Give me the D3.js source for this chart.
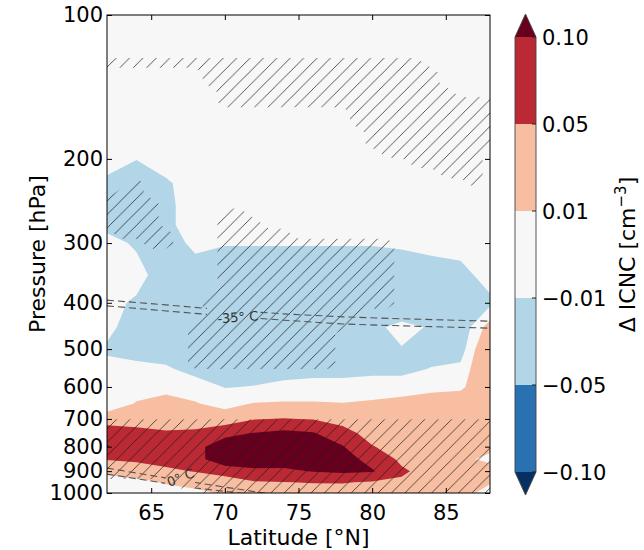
<!DOCTYPE html>
<html>
<head>
<meta charset="utf-8">
<script src="https://cdn.jsdelivr.net/npm/d3@7"></script>
<style>
  body { margin: 0; background: #fff; }
  svg { display: block; }
  text { font-family: "DejaVu Sans", sans-serif; fill: #000; }
</style>
</head>
<body>
<svg id="chart" width="644" height="550"></svg>
<script>
// ---- ICNC change field: rows follow `pressures`, columns follow `lats` ----
const lats = [62, 64, 66, 68, 70, 72, 74, 76, 78, 80, 82, 84, 86, 88];
const pressures = [100, 125, 150, 175, 200, 225, 250, 275, 300, 350, 400, 450,
                   500, 550, 600, 650, 700, 750, 800, 850, 900, 950, 1000];
const icnc = [
  [0, 0, 0, 0, 0, 0, 0, 0, 0, 0, 0, 0, 0, 0],
  [0, 0, 0, 0, 0, 0, 0, 0, 0, 0, 0, 0, 0, 0],
  [0, 0, 0, 0, 0, 0, 0, 0, 0, 0, 0, 0, 0, 0],
  [0, 0, 0, 0, 0, 0, 0, 0, 0, 0, 0, 0, 0, 0],
  [0, -0.009, 0, 0, 0, 0, 0, 0, 0, 0, 0, 0, 0, 0],
  [-0.015, -0.03, -0.013, 0, 0, 0, 0, 0, 0, 0, 0, 0, 0, 0],
  [-0.03, -0.03, -0.015, 0, 0, 0, 0, 0, 0, 0, 0, 0, 0, 0],
  [-0.02, -0.025, -0.015, 0, 0, 0, 0, 0, 0, 0, 0, 0, 0, 0],
  [0.002, -0.015, -0.02, -0.005, -0.008, -0.008, -0.008, -0.008, -0.008, -0.008, -0.005, -0.002, 0, 0],
  [0, 0.003, -0.03, -0.02, -0.03, -0.03, -0.03, -0.03, -0.03, -0.03, -0.03, -0.022, -0.018, 0],
  [0, -0.015, -0.03, -0.03, -0.03, -0.03, -0.03, -0.03, -0.03, -0.03, -0.03, -0.03, -0.03, -0.015],
  [0, -0.03, -0.03, -0.03, -0.03, -0.03, -0.03, -0.03, -0.03, -0.015, -0.004, -0.012, -0.025, 0.02],
  [-0.015, -0.025, -0.025, -0.03, -0.03, -0.03, -0.03, -0.03, -0.03, -0.03, -0.011, -0.02, -0.02, 0.04],
  [0, 0, -0.006, -0.02, -0.025, -0.022, -0.02, -0.02, -0.02, -0.018, -0.016, -0.009, -0.005, 0.04],
  [0, 0.004, 0.005, 0.003, -0.011, -0.009, -0.004, 0, 0, 0.003, 0, 0.003, 0.004, 0.04],
  [0, 0.011, 0.016, 0.011, 0.004, 0.011, 0.012, 0.0115, 0.0105, 0.012, 0.017, 0.023, 0.03, 0.04],
  [0.019, 0.03, 0.03, 0.03, 0.02, 0.048, 0.052, 0.048, 0.035, 0.025, 0.025, 0.03, 0.035, 0.035],
  [0.09, 0.065, 0.055, 0.058, 0.09, 0.102, 0.113, 0.104, 0.065, 0.035, 0.03, 0.035, 0.035, 0.03],
  [0.102, 0.08, 0.075, 0.09, 0.12, 0.135, 0.14, 0.14, 0.103, 0.052, 0.035, 0.035, 0.03, 0.015],
  [0.052, 0.06, 0.065, 0.085, 0.13, 0.13, 0.135, 0.14, 0.125, 0.08, 0.042, 0.035, 0.015, 0.005],
  [0.02, 0.02, 0.042, 0.052, 0.075, 0.09, 0.088, 0.103, 0.11, 0.105, 0.056, 0.035, 0.025, 0.02],
  [-0.008, 0.004, 0.012, 0.025, 0.019, 0.046, 0.049, 0.052, 0.053, 0.045, 0.044, 0.03, 0.025, 0.012],
  [0, 0, 0, 0, 0.015, 0.025, 0.025, 0.025, 0.025, 0.02, 0.025, 0.025, 0.02, 0]
];

// ---- significance mask (1 = significant), rows follow `sigPressures` ----
const sigLats = [62, 63, 64, 65, 66, 67, 68, 69, 70, 71, 72, 73, 74, 75, 76, 77,
                 78, 79, 80, 81, 82, 83, 84, 85, 86, 87, 88];
const sigPressures = [100, 105, 110, 115, 120, 126, 132, 138, 145, 152, 160, 168,
                      176, 185, 194, 204, 214, 225, 236, 248, 260, 273, 287, 301,
                      316, 332, 348, 365, 383, 402, 422, 443, 465, 488, 512, 537,
                      564, 592, 621, 652, 684, 718, 753, 790, 829, 870, 913, 958, 1000];
const sigMask = [
  "000000000000000000000000000",
  "000000000000000000000000000",
  "000000000000000000000000000",
  "000000000000000000000000000",
  "000000000000000000000000000",
  "111111111111111111111100000",
  "000000011111111111111110000",
  "000000011111111111111110000",
  "000000001111111111111111000",
  "000000001111111111111111111",
  "000000000000000001111111111",
  "000000000000000001111111111",
  "000000000000000000111111111",
  "000000000000000000111111111",
  "000000000000000000011111110",
  "000000000000000000000111110",
  "000000000000000000000001110",
  "001000000000000000000000010",
  "011000000000000000000000000",
  "111100000000000000000000000",
  "111100001100000000000000000",
  "111100001110000000000000000",
  "011110001111100000000000000",
  "000110001111111111110000000",
  "000000001111111111110000000",
  "000000001111111111110000000",
  "000000001111111111110000000",
  "000000001111111111110000000",
  "000000011111111111110000000",
  "000000011111111111110000000",
  "000000011111111111000000000",
  "000000111111111110000000000",
  "000000111111111100000000000",
  "000000111111111100000000000",
  "000000111111111100000000000",
  "000000111111111100000000000",
  "000000000000000000000000000",
  "000000000000000000000000000",
  "000000000000000000000000000",
  "000000000000000000000000000",
  "000000000000000000000000000",
  "111111111111111111111111111",
  "111111111111111111111111111",
  "111111111111111111111111111",
  "111111111111111111111111111",
  "111111111111111111111111111",
  "111111111111111111111111111",
  "000001111111111111111111111",
  "000000011111111111111111111"
];

// ---- isotherms (pressure in hPa at each latitude) ----
const isoLats35 = [62, 66, 70, 74, 78, 82, 88];
const iso35a = [395, 404, 414, 422, 428, 432, 437];
const iso35b = [406, 416, 426, 435, 443, 447, 452];
const isoLats0 = [62, 66, 70, 74];
const iso0a = [887, 930, 972, 1015];
const isoLats0b = [62, 65, 68, 71, 72];
const iso0b = [913, 944, 976, 1000, 1010];

// ---- levels, colours, ticks ----
const levels = [-0.1, -0.05, -0.01, 0.01, 0.05, 0.1];
const levelLabels = ["\u22120.10", "\u22120.05", "\u22120.01", "0.01", "0.05", "0.10"];
const bandColors = ["#053061", "#2a71b2", "#b2d5e7", "#f7f7f7", "#f7bea2", "#bb2a34", "#67001f"];
const latTicks = [65, 70, 75, 80, 85];
const pressureTicks = [100, 200, 300, 400, 500, 600, 700, 800, 900, 1000];

// ---- layout ----
const plot = { left: 107, right: 490, top: 15, bottom: 493 };
const cbar = { left: 515, right: 536, top: 37, bottom: 472, tip: 23 };

const x = d3.scaleLinear().domain([62, 88]).range([plot.left, plot.right]);
const y = d3.scaleLog().domain([100, 1000]).range([plot.top, plot.bottom]);

const svg = d3.select("#chart");
const defs = svg.append("defs");

defs.append("clipPath").attr("id", "plotClip")
  .append("rect")
  .attr("x", plot.left).attr("y", plot.top)
  .attr("width", plot.right - plot.left).attr("height", plot.bottom - plot.top);

// '/' hatching for significant regions
const hs = 13.4;
defs.append("pattern")
  .attr("id", "hatch")
  .attr("patternUnits", "userSpaceOnUse")
  .attr("width", hs).attr("height", hs)
  .append("path")
  .attr("d", `M0,${hs} L${hs},0 M${-hs / 4},${hs / 4} L${hs / 4},${-hs / 4} M${hs * 3 / 4},${hs * 5 / 4} L${hs * 5 / 4},${hs * 3 / 4}`)
  .attr("stroke", "#1a1a1a")
  .attr("stroke-opacity", 0.8)
  .attr("stroke-width", 0.9);

// path generator for d3.contours output on an irregular lat/pressure grid
function gridPath(gLats, gPress) {
  const nx = gLats.length, ny = gPress.length;
  const fx = c => {
    const f = c - 0.5;
    const i = Math.max(0, Math.min(nx - 2, Math.floor(f)));
    const t = f - i;
    return x(gLats[i]) + t * (x(gLats[i + 1]) - x(gLats[i]));
  };
  const fy = c => {
    const f = c - 0.5;
    const j = Math.max(0, Math.min(ny - 2, Math.floor(f)));
    const t = f - j;
    return y(gPress[j]) + t * (y(gPress[j + 1]) - y(gPress[j]));
  };
  return d3.geoPath(d3.geoTransform({
    point(px, py) { this.stream.point(fx(px), fy(py)); }
  }));
}

const field = svg.append("g").attr("clip-path", "url(#plotClip)");

// filled contours
field.append("rect")
  .attr("x", plot.left).attr("y", plot.top)
  .attr("width", plot.right - plot.left).attr("height", plot.bottom - plot.top)
  .attr("fill", bandColors[0]);

const icncPath = gridPath(lats, pressures);
const bands = d3.contours()
  .size([lats.length, pressures.length])
  .thresholds(levels)(icnc.flat());

field.selectAll("path.band")
  .data(bands)
  .join("path")
  .attr("class", "band")
  .attr("d", icncPath)
  .attr("fill", (d, i) => bandColors[i + 1]);

// hatched significance
const sigPath = gridPath(sigLats, sigPressures);
const sigValues = sigMask.flatMap(row => Array.from(row, Number));
const sigRegion = d3.contours()
  .size([sigLats.length, sigPressures.length])
  .thresholds([0.5])(sigValues);

field.selectAll("path.sig")
  .data(sigRegion)
  .join("path")
  .attr("class", "sig")
  .attr("d", sigPath)
  .attr("fill", "url(#hatch)");

// isotherms with inline labels
const labelGap = defs.append("mask").attr("id", "isoMask");
labelGap.append("rect").attr("x", 0).attr("y", 0).attr("width", 644).attr("height", 550).attr("fill", "#fff");
labelGap.append("rect").attr("x", 207).attr("y", 306).attr("width", 50).attr("height", 18).attr("fill", "#000");
labelGap.append("rect").attr("x", 165).attr("y", 471).attr("width", 30).attr("height", 18).attr("fill", "#000");

const isoLine = d3.line().x(d => x(d[0])).y(d => y(d[1]));
const isotherms = [
  d3.zip(isoLats35, iso35a),
  d3.zip(isoLats35, iso35b),
  d3.zip(isoLats0, iso0a),
  d3.zip(isoLats0b, iso0b)
];
const isoG = field.append("g").attr("mask", "url(#isoMask)");
isoG.selectAll("path")
  .data(isotherms)
  .join("path")
  .attr("d", isoLine)
  .attr("fill", "none")
  .attr("stroke", "#555")
  .attr("stroke-width", 1.1)
  .attr("stroke-dasharray", "7,4");

field.append("text")
  .attr("transform", `translate(${x(70.9)},${y(428) + 5}) rotate(-4)`)
  .attr("text-anchor", "middle")
  .attr("font-size", 13)
  .style("fill", "#333")
  .text("-35\u00b0 C");

field.append("text")
  .attr("transform", `translate(${x(67.1)},${y(925) + 5}) rotate(-22)`)
  .attr("text-anchor", "middle")
  .attr("font-size", 13)
  .style("fill", "#333")
  .text("0\u00b0 C");

// frame
svg.append("rect")
  .attr("x", plot.left).attr("y", plot.top)
  .attr("width", plot.right - plot.left).attr("height", plot.bottom - plot.top)
  .attr("fill", "none").attr("stroke", "#000").attr("stroke-width", 1);

// axes with inward ticks on all four sides
function styleAxis(g) {
  g.select(".domain").remove();
  g.selectAll(".tick line").attr("stroke", "#000");
  g.attr("font-family", "DejaVu Sans, sans-serif").attr("font-size", 21);
  g.selectAll(".tick text").attr("fill", "#000");
}
svg.append("g")
  .attr("transform", `translate(0,${plot.bottom})`)
  .call(d3.axisBottom(x).tickValues(latTicks).tickFormat(d3.format("d"))
    .tickSizeInner(-5).tickSizeOuter(0).tickPadding(12.5))
  .call(styleAxis);
svg.append("g")
  .attr("transform", `translate(0,${plot.top})`)
  .call(d3.axisTop(x).tickValues(latTicks).tickFormat("")
    .tickSizeInner(-5).tickSizeOuter(0))
  .call(styleAxis);
svg.append("g")
  .attr("transform", `translate(${plot.left},0)`)
  .call(d3.axisLeft(y).tickValues(pressureTicks).tickFormat(d3.format("d"))
    .tickSizeInner(-5).tickSizeOuter(0).tickPadding(4))
  .call(styleAxis);
svg.append("g")
  .attr("transform", `translate(${plot.right},0)`)
  .call(d3.axisRight(y).tickValues(pressureTicks).tickFormat("")
    .tickSizeInner(-5).tickSizeOuter(0))
  .call(styleAxis);

// axis titles
svg.append("text")
  .attr("x", (plot.left + plot.right) / 2).attr("y", 545)
  .attr("text-anchor", "middle").attr("font-size", 22)
  .text("Latitude [\u00b0N]");
svg.append("text")
  .attr("transform", `translate(45,${(plot.top + plot.bottom) / 2}) rotate(-90)`)
  .attr("text-anchor", "middle").attr("font-size", 22)
  .text("Pressure [hPa]");

// colourbar
const cb = d3.scaleLinear().domain([0, levels.length - 1]).range([cbar.bottom, cbar.top]);
const cbG = svg.append("g");
const cbMid = (cbar.left + cbar.right) / 2;
cbG.selectAll("rect")
  .data(d3.range(levels.length - 1))
  .join("rect")
  .attr("x", cbar.left).attr("width", cbar.right - cbar.left)
  .attr("y", i => cb(i + 1)).attr("height", i => cb(i) - cb(i + 1))
  .attr("fill", i => bandColors[i + 1]);
cbG.append("path")
  .attr("d", `M${cbar.left},${cbar.top} L${cbMid},${cbar.top - cbar.tip} L${cbar.right},${cbar.top} Z`)
  .attr("fill", bandColors[bandColors.length - 1]);
cbG.append("path")
  .attr("d", `M${cbar.left},${cbar.bottom} L${cbMid},${cbar.bottom + cbar.tip} L${cbar.right},${cbar.bottom} Z`)
  .attr("fill", bandColors[0]);
cbG.append("path")
  .attr("d", `M${cbar.left},${cbar.top} L${cbMid},${cbar.top - cbar.tip} L${cbar.right},${cbar.top} L${cbar.right},${cbar.bottom} L${cbMid},${cbar.bottom + cbar.tip} L${cbar.left},${cbar.bottom} Z`)
  .attr("fill", "none").attr("stroke", "#444").attr("stroke-width", 0.9);

const cbTicks = cbG.selectAll("g.cbtick")
  .data(levelLabels)
  .join("g")
  .attr("class", "cbtick")
  .attr("transform", (d, i) => `translate(${cbar.right},${cb(i)})`);
cbTicks.append("line").attr("x1", -4).attr("x2", 0).attr("stroke", "#222");
cbTicks.append("text")
  .attr("x", 6).attr("dy", "0.36em")
  .attr("font-size", 21)
  .text(d => d);

const cbLabel = svg.append("text")
  .attr("transform", `translate(635,${(cbar.top + cbar.bottom) / 2}) rotate(-90)`)
  .attr("text-anchor", "middle").attr("font-size", 22);
cbLabel.append("tspan").text("\u0394 ICNC [cm");
cbLabel.append("tspan").attr("font-size", 15).attr("dy", -9).text("\u22123");
cbLabel.append("tspan").attr("dy", 9).text("]");
</script>
</body>
</html>
